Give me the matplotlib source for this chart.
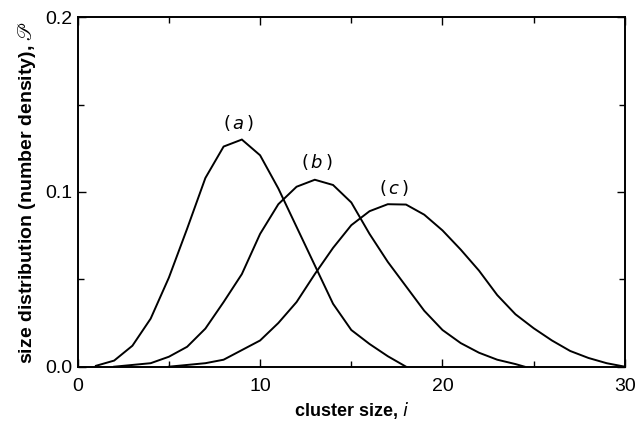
import numpy as np
import matplotlib
matplotlib.use("Agg")
import matplotlib.pyplot as plt

# cluster size i and distributions
size_a = [1, 2, 3, 4, 5, 6, 7, 8, 9, 10, 11, 12, 13, 14, 15, 16, 17, 18]
dist_a = [0.0005, 0.0035, 0.012, 0.0275, 0.051, 0.079, 0.108, 0.126, 0.130,
          0.121, 0.102, 0.080, 0.058, 0.036, 0.021, 0.013, 0.006, 0.0]

size_b = [2, 3, 4, 5, 6, 7, 8, 9, 10, 11, 12, 13, 14, 15, 16, 17, 18, 19,
          20, 21, 22, 23, 24, 24.5]
dist_b = [0.0, 0.001, 0.002, 0.0057, 0.0114, 0.0218, 0.037, 0.053, 0.076,
          0.093, 0.103, 0.107, 0.104, 0.094, 0.076, 0.060, 0.046, 0.032,
          0.021, 0.0135, 0.008, 0.004, 0.0015, 0.0]

size_c = [5, 6, 7, 8, 9, 10, 11, 12, 13, 14, 15, 16, 17, 18, 19, 20, 21, 22,
          23, 24, 25, 26, 27, 28, 29, 30]
dist_c = [0.0, 0.001, 0.002, 0.004, 0.0095, 0.015, 0.025, 0.037, 0.053,
          0.068, 0.081, 0.089, 0.093, 0.0928, 0.087, 0.078, 0.067, 0.055,
          0.041, 0.030, 0.022, 0.015, 0.009, 0.005, 0.002, 0.0]

labels = ["a", "b", "c"]
label_pos = [(8.8, 0.1335), (13.1, 0.1115), (17.35, 0.0965)]

plt.rcParams['font.family'] = ['Liberation Sans', 'DejaVu Sans']

fig = plt.figure(figsize=(6.4, 4.21), dpi=100)
ax = fig.add_axes([0.1214, 0.129, 0.855, 0.830])

for xs, ys in [(size_a, dist_a), (size_b, dist_b), (size_c, dist_c)]:
    ax.plot(xs, ys, color='black', lw=1.4, solid_joinstyle='miter')

for letter, (lx, ly) in zip(labels, label_pos):
    ax.text(lx, ly, r"$(\,%s\,)$" % letter, ha='center', va='bottom',
            fontsize=13, math_fontfamily='dejavusans')

ax.set_xlim(0, 30)
ax.set_ylim(0, 0.2)
ax.set_xticks([0, 10, 20, 30])
ax.set_xticks([5, 15, 25], minor=True)
ax.set_yticks([0.0, 0.1, 0.2])
ax.set_yticks([0.05, 0.15], minor=True)
ax.set_yticklabels(["0.0", "0.1", "0.2"])
ax.tick_params(which='both', direction='in', top=True, right=True,
               labelsize=14, width=1.0)
ax.tick_params(which='major', length=6)
ax.tick_params(which='minor', length=4)
ax.tick_params(axis='x', which='major', pad=8)
ax.tick_params(axis='y', which='major', pad=4)
for sp in ax.spines.values():
    sp.set_linewidth(1.4)

ax.set_xlabel("cluster size, $i$", fontsize=13, fontweight='bold', labelpad=4)
ax.set_ylabel(r"size distribution (number density), $\mathscr{P}$",
              fontsize=14, fontweight='bold', labelpad=5, math_fontfamily='stix')

fig.savefig("out.png", dpi=100)
